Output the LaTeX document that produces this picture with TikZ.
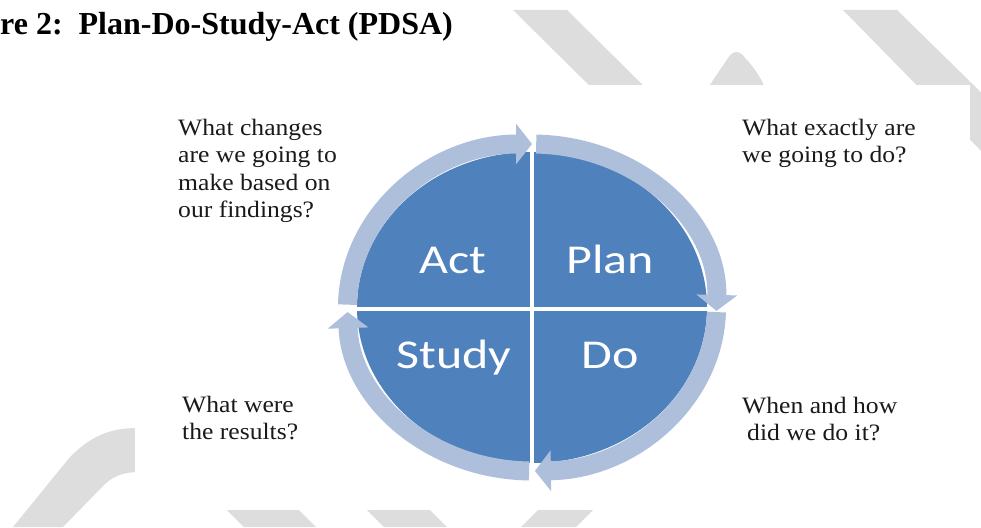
\documentclass[tikz,border=0pt]{standalone}
\usepackage{fontspec}
\setmainfont{Liberation Serif}
\newfontfamily\sideserif[FakeStretch=1.09]{Liberation Serif}
\newfontfamily\labelsans[FakeStretch=1.22]{Carlito}
\usetikzlibrary{arrows.meta,shapes.geometric}
\definecolor{pdsablue}{HTML}{4F81BD}
\definecolor{ringblue}{HTML}{AEBFDC}
\definecolor{wmgrey}{HTML}{DDDDDD}
\definecolor{sidetext}{HTML}{1A1A1A}
\tikzset{
  ringarc/.style={draw=ringblue, line width=19pt, -{Triangle[width=40pt,length=16pt]}},
  quad/.style={text=white, font=\labelsans\fontsize{41}{41}\selectfont, anchor=base, inner sep=0pt},
  question/.style={text=sidetext, font=\sideserif\fontsize{23.5}{27.5}\selectfont, align=left, anchor=base west, inner sep=0pt},
  wm/.style={fill=wmgrey},
  divider/.style={draw=white, line width=3.5pt},
  disc/.style={ellipse, fill=pdsablue, minimum width=350pt, minimum height=311pt, inner sep=0pt}
}
\begin{document}
\begin{tikzpicture}[x=1pt,y=-1pt]
\useasboundingbox (0,0) rectangle (981,527);
% watermark shapes
\fill[wm] (513,10) -- (567,10) -- (660,102) -- (606,102) -- cycle;
\fill[wm] (705,92) -- (728,58) .. controls (733,50) and (740,50) .. (745,58) .. controls (755,68) and (762,80) .. (767,92) -- cycle;
\fill[wm] (843,10) -- (897,10) -- (1050,160) -- (990,160) -- cycle;
\fill[wm] (13,527) -- (70,457) .. controls (95,432) and (115,428) .. (140,428) -- (140,472) .. controls (125,472) and (115,475) .. (105,484) -- (63,527) -- cycle;
\fill[wm] (227,510) -- (299,510) -- (316,527) -- (244,527) -- cycle;
\fill[wm] (362,505) -- (425,505) -- (447,527) -- (384,527) -- cycle;
\fill[wm] (543,505) -- (598,505) -- (576,527) -- (521,527) -- cycle;
% white panel
\fill[white] (135,85) rectangle (970,510);
% title
\node[anchor=base west, inner sep=0pt, font=\bfseries\fontsize{32}{32}\selectfont] (title) at (0,35) {re 2:\ \ Plan-Do-Study-Act (PDSA)};
% disc
\node[disc] (disc) at (532,307.5) {};
\draw[divider] (532,133) -- (532,482);
\draw[divider] (336,309) -- (730,309);
% ring arrows
\draw[ringarc] ([shift={(181:184.5 and 163.5)}]disc.center) arc[start angle=181, end angle=270, x radius=184.5, y radius=163.5];
\draw[ringarc] ([shift={(271.3:184.5 and 163.5)}]disc.center) arc[start angle=271.3, end angle=361.2, x radius=184.5, y radius=163.5];
\draw[ringarc] ([shift={(1.6:184.5 and 163.5)}]disc.center) arc[start angle=1.6, end angle=89.1, x radius=184.5, y radius=163.5];
\draw[ringarc] ([shift={(90.9:184.5 and 163.5)}]disc.center) arc[start angle=90.9, end angle=178.4, x radius=184.5, y radius=163.5];
% quadrant labels
\node[quad] (act) at (453,273) {Act};
\node[quad] (plan) at (610,273) {Plan};
\node[quad] (study) at (454,368) {Study};
\node[quad] (do) at (610,368) {Do};
% questions (base anchor = baseline of last line)
\node[question] (qact) at (178,217.5) {What changes\\are we going to\\make based on\\our findings?};
\node[question] (qplan) at (742,162.5) {What exactly are\\we going to do?};
\node[question] (qstudy) at (182,439.5) {What were\\the results?};
\node[question] (qdo) at (742,440.5) {When and how\\\hspace*{5pt}did we do it?};
\end{tikzpicture}
\end{document}
